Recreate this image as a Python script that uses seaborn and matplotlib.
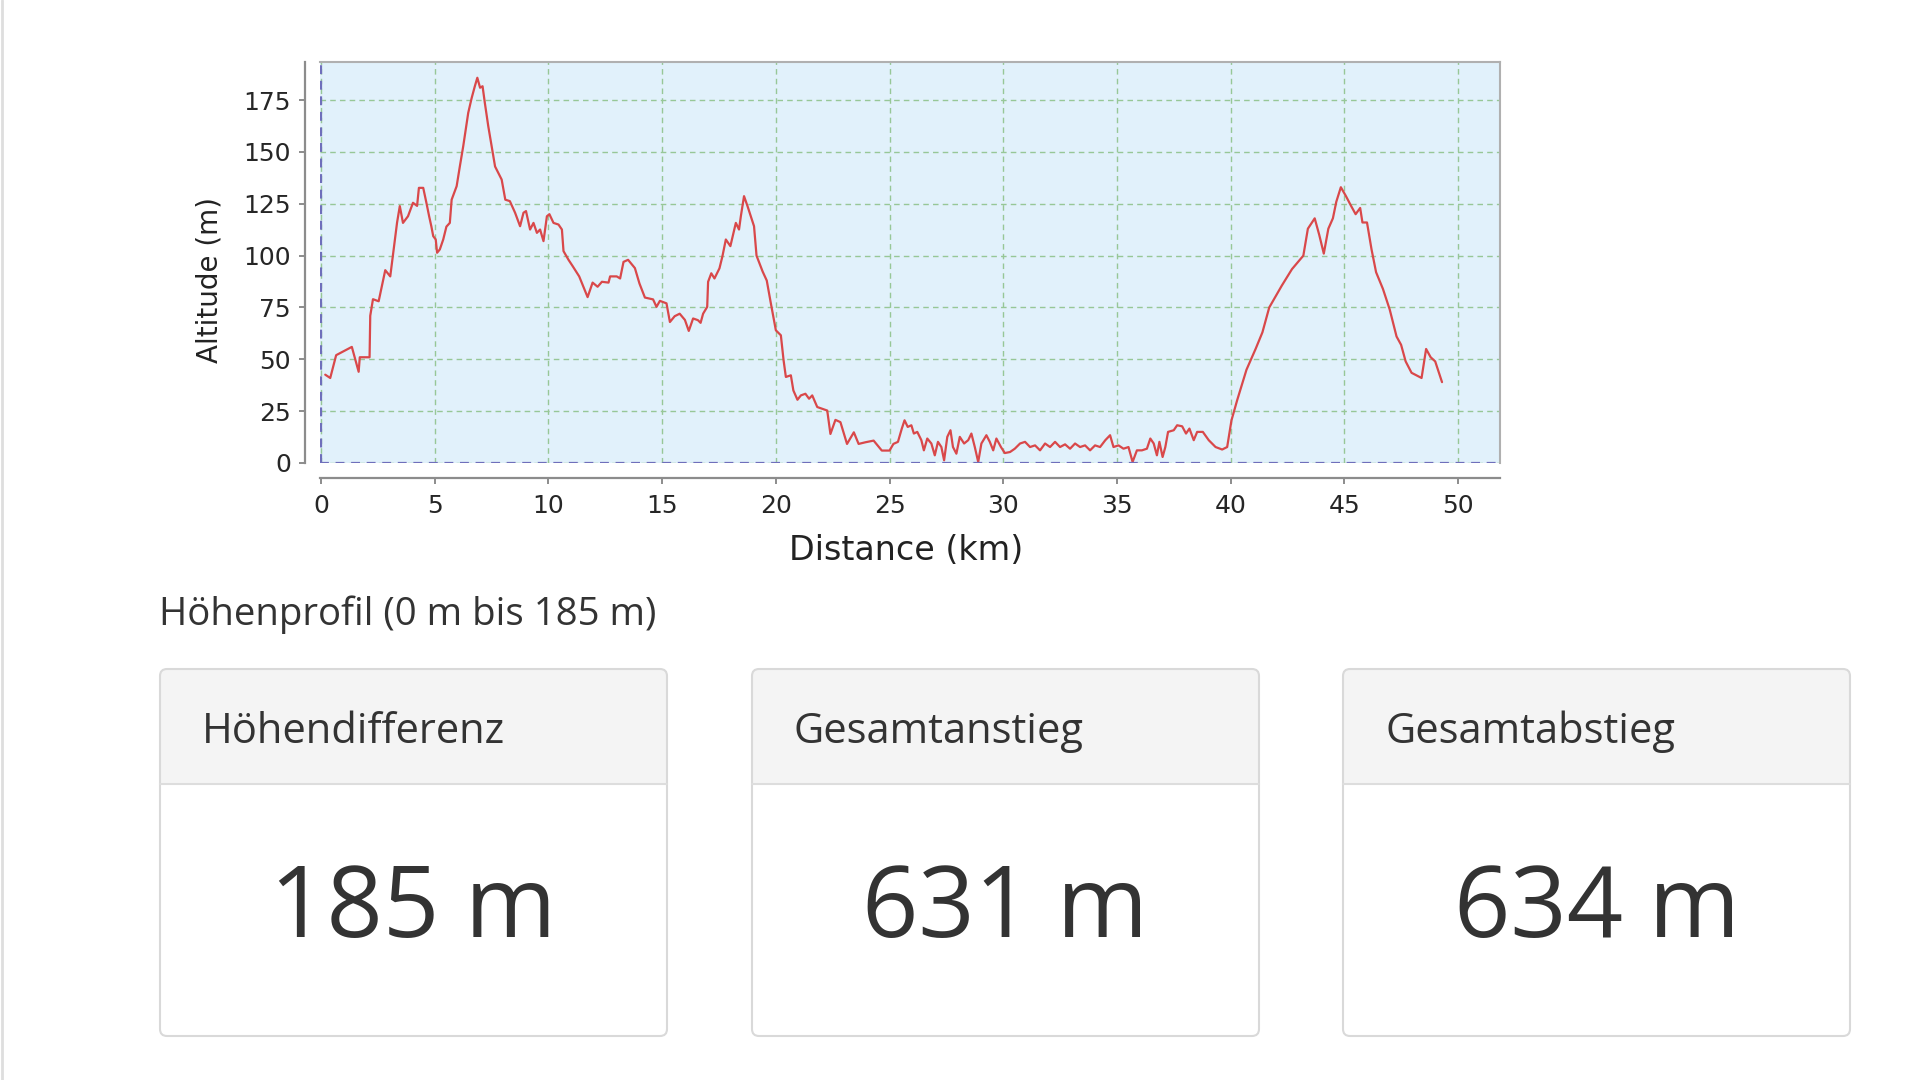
import matplotlib
matplotlib.use("Agg")
import matplotlib.pyplot as plt
import pandas as pd
import seaborn as sns
from matplotlib.patches import FancyBboxPatch, Rectangle

# elevation profile
distance_km = [
    0.18, 0.4, 0.66, 1.35, 1.5, 1.65, 1.7, 2.13, 2.16, 2.28, 2.53, 2.82, 3.04,
    3.34, 3.46, 3.6, 3.82, 4.04, 4.22, 4.3, 4.49, 4.63, 4.75, 4.85, 4.93, 5.04,
    5.1, 5.22, 5.37, 5.51, 5.66, 5.74, 5.96, 6.1, 6.25, 6.47, 6.62, 6.76, 6.87,
    6.99, 7.1, 7.2, 7.35, 7.5, 7.65, 7.79, 7.94, 8.1, 8.3, 8.53, 8.75, 8.9,
    9.01, 9.19, 9.34, 9.49, 9.63, 9.78, 9.93, 10.04, 10.22, 10.44, 10.59,
    10.66, 10.88, 11.06, 11.35, 11.72, 11.94, 12.16, 12.35, 12.64, 12.71, 13.0,
    13.15, 13.3, 13.5, 13.8, 14.0, 14.24, 14.6, 14.75, 14.9, 15.19, 15.34,
    15.55, 15.77, 16.0, 16.17, 16.36, 16.57, 16.69, 16.8, 16.98, 17.02, 17.16,
    17.3, 17.52, 17.65, 17.8, 18.0, 18.24, 18.38, 18.46, 18.6, 18.75, 19.04,
    19.15, 19.42, 19.6, 19.78, 20.0, 20.22, 20.34, 20.44, 20.66, 20.77, 20.95,
    21.1, 21.3, 21.46, 21.6, 21.82, 22.26, 22.4, 22.62, 22.84, 23.13, 23.43,
    23.64, 23.94, 24.3, 24.66, 25.0, 25.17, 25.37, 25.54, 25.66, 25.8, 25.96,
    26.07, 26.22, 26.4, 26.51, 26.66, 26.84, 26.99, 27.13, 27.28, 27.4, 27.54,
    27.68, 27.79, 27.94, 28.09, 28.28, 28.46, 28.6, 28.75, 28.9, 29.04, 29.26,
    29.41, 29.56, 29.7, 29.9, 30.07, 30.3, 30.51, 30.74, 30.96, 31.18, 31.4,
    31.62, 31.84, 32.06, 32.28, 32.5, 32.72, 32.94, 33.16, 33.38, 33.6, 33.82,
    34.04, 34.26, 34.49, 34.7, 34.85, 35.07, 35.29, 35.51, 35.69, 35.88, 36.1,
    36.32, 36.47, 36.62, 36.76, 36.87, 37.01, 37.13, 37.25, 37.5, 37.65, 37.87,
    38.04, 38.19, 38.38, 38.53, 38.78, 39.04, 39.34, 39.63, 39.85, 40.04,
    40.29, 40.7, 41.1, 41.4, 41.7, 42.25, 42.7, 43.2, 43.4, 43.7, 43.9, 44.1,
    44.3, 44.5, 44.65, 44.85, 45.06, 45.3, 45.5, 45.7, 45.8, 46.0, 46.2, 46.4,
    46.7, 47.0, 47.3, 47.5, 47.7, 47.96, 48.4, 48.6, 48.8, 49.0, 49.3,
]
altitude_m = [
    42.6, 41, 52, 56, 50, 44, 51, 51, 71, 79, 78, 93, 90,
    116, 123.9, 115.8, 119, 125.5, 124, 132.7, 132.7, 125.5, 119, 114, 109.4, 107.8,
    101.4, 103, 107.8, 114, 115.8, 127, 133.5, 143, 152.8, 168.9, 176, 181.7, 185.8,
    181, 181.7, 173.7, 162.5, 152.8, 143, 140, 136.7, 127, 126.3, 120.7, 114.2, 120.7,
    121.5, 112.6, 115.8, 111, 112.6, 107, 119, 120, 115.8, 115, 112.6,
    102.2, 98, 95, 90, 80, 87, 85, 87.4, 87, 90, 90,
    89, 97, 98, 94, 86.6, 79.8, 78.9, 75.3, 78.2, 77, 68,
    70.8, 72, 69, 63.7, 69.7, 68.9, 67.6, 72, 75.3, 87.4, 91.5,
    89, 93.9, 99.7, 107.8, 104.6, 115.8, 112.6, 119, 128.7, 124, 114.2,
    100, 92.3, 88, 77, 64, 61.6, 49.5, 41.5, 42.3, 35, 30.5,
    32.6, 33.4, 31, 32.6, 27, 25.3, 14, 20.8, 19.7, 9.2, 14.8,
    9.2, 10, 10.8, 6, 6, 9.2, 10.2, 16.6, 20.6, 17.4, 18.2,
    14.2, 15, 11, 6.1, 11.8, 9.4, 3.7, 10.2, 7.7, 1.3, 12.6,
    15.8, 7.7, 4.5, 12.6, 9.4, 11, 14.2, 7.7, 0.5, 9.4, 13.4,
    10.2, 6.1, 11.8, 7.7, 4.8, 5.3, 6.9, 9.4, 10.2, 7.7, 8.5,
    6.1, 9.4, 7.7, 10.2, 7.7, 9, 6.9, 9.4, 7.7, 8.5, 6.1,
    8.5, 7.7, 11, 13.4, 7.7, 8.5, 6.9, 7.7, 0.5, 6.1, 6.1,
    6.9, 11.8, 9.4, 3.7, 10.2, 2.9, 7.7, 15, 15.8, 18.2, 17.7,
    14.2, 16.6, 11, 15, 15, 11, 7.7, 6.5, 7.7, 20.6,
    30.3, 45, 55, 63, 75, 85.5, 93.5, 100, 113, 118, 110, 101,
    113, 118, 126, 133, 129, 124, 120, 123, 116, 116, 103, 92,
    84, 74, 61, 57, 49, 43.5, 41, 55, 51, 49, 39,
]
x_ticks = [0, 5, 10, 15, 20, 25, 30, 35, 40, 45, 50]
y_ticks = [0, 25, 50, 75, 100, 125, 150, 175]

summary_titles = ["Höhendifferenz", "Gesamtanstieg", "Gesamtabstieg"]
summary_values = ["185 m", "631 m", "634 m"]
profile_caption = "Höhenprofil (0 m bis 185 m)"

sns.set_style("white")
plt.rcParams["font.family"] = ["DejaVu Sans"]

W, H = 1920, 1080
fig = plt.figure(figsize=(W / 100, H / 100), dpi=100)
fig.patch.set_facecolor("white")

# page layer in pixel coordinates
page = fig.add_axes([0, 0, 1, 1])
page.set_xlim(0, W)
page.set_ylim(H, 0)
page.axis("off")
page.plot([1.5, 1.5], [0, H], color="#dedede", lw=2)

page.text(159, 625, profile_caption, fontsize=27.6, color="#333333",
          family="Open Sans", va="baseline", ha="left")

card_lefts = [160, 752, 1343]
card_w = 507
card_top, card_head, card_bottom = 669, 784, 1036
for left, title, value in zip(card_lefts, summary_titles, summary_values):
    body = FancyBboxPatch((left, card_top), card_w, card_bottom - card_top,
                          boxstyle="round,pad=0,rounding_size=7",
                          facecolor="white", edgecolor="none")
    page.add_patch(body)
    head = FancyBboxPatch((left, card_top), card_w, card_head - card_top,
                          boxstyle="round,pad=0,rounding_size=7",
                          facecolor="#f4f4f4", edgecolor="none")
    page.add_patch(head)
    page.add_patch(Rectangle((left, card_head - 10), card_w, 10,
                             facecolor="#f4f4f4", edgecolor="none"))
    page.plot([left, left + card_w], [card_head, card_head],
              color="#dddddd", lw=1.5)
    border = FancyBboxPatch((left, card_top), card_w, card_bottom - card_top,
                            boxstyle="round,pad=0,rounding_size=7",
                            facecolor="none", edgecolor="#d9d9d9", lw=1.5)
    page.add_patch(border)
    page.text(left + 42, 743, title, fontsize=30, color="#333333",
              family="Open Sans", va="baseline", ha="left")
    page.text(left + card_w / 2, 937, value, fontsize=71, color="#333333",
              family="Open Sans", va="baseline", ha="center")

# elevation chart
ax = fig.add_axes([320 / W, 1 - 463 / H, 1180 / W, 401 / H])
ax.set_facecolor("#e1f1fb")
profile = pd.DataFrame({"distance": distance_km, "altitude": altitude_m})
sns.lineplot(data=profile, x="distance", y="altitude", ax=ax,
             color="#d9484a", lw=1.6, sort=False, estimator=None)

ax.set_xlim(-0.05, 51.85)
ax.set_ylim(0, 193.4)
ax.set_xticks(x_ticks)
ax.set_yticks(y_ticks)
ax.grid(True, color="#97c797", linestyle=(0, (4, 3)), lw=1.0)
ax.axhline(0, color="#6f6fbb", linestyle=(0, (4, 3)), lw=1.6, zorder=3)
ax.axvline(0, color="#6f6fbb", linestyle=(0, (4, 3)), lw=1.6, zorder=3)

for side in ["top", "right"]:
    ax.spines[side].set_color("#b0b0b0")
    ax.spines[side].set_linewidth(1.5)
ax.spines["left"].set_position(("outward", 11))
ax.spines["bottom"].set_position(("outward", 10.5))
for side in ["left", "bottom"]:
    ax.spines[side].set_color("#8c8c8c")
    ax.spines[side].set_linewidth(1.6)

ax.tick_params(axis="both", which="major", direction="out", length=4,
               width=1.4, color="#8c8c8c", labelsize=18, labelcolor="#262626",
               left=True, bottom=True)
ax.tick_params(axis="y", pad=6)
ax.tick_params(axis="x", pad=8)

ax.set_xlabel("Distance (km)", fontsize=24, color="#222222")
ax.set_ylabel("Altitude (m)", fontsize=20, color="#222222")
ax.xaxis.set_label_coords(0.497, -0.178)
ax.yaxis.set_label_coords(-0.082, 0.456)

fig.savefig("out.png", dpi=100, facecolor="white")
